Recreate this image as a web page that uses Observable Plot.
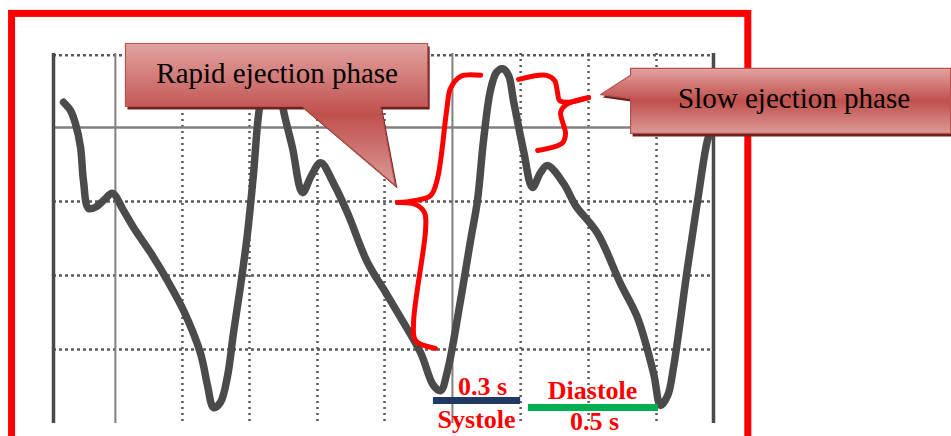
<!DOCTYPE html>
<html>
<head>
<meta charset="utf-8">
<script src="https://cdn.jsdelivr.net/npm/d3@7"></script>
<script src="https://cdn.jsdelivr.net/npm/@observablehq/plot@0.6"></script>
<style>
  html, body { margin: 0; padding: 0; background: #fff; overflow: hidden; }
  #chart svg { display: block; }
</style>
</head>
<body>
<svg width="0" height="0" style="position:absolute">
  <defs>
    <linearGradient id="calloutGrad" x1="0" y1="0" x2="0" y2="1">
      <stop offset="0" stop-color="#e2a3a1"/>
      <stop offset="0.5" stop-color="#c0504d"/>
      <stop offset="1" stop-color="#dc9a98"/>
    </linearGradient>
  </defs>
</svg>
<div id="chart"></div>
<script>
// Waveform: time (s) vs pressure (arbitrary units, 0-100 over the grid)
const waveT = [0.035,0.059,0.076,0.094,0.104,0.122,0.149,0.177,0.205,0.243,0.278,0.337,0.396,0.452,0.511,0.535,0.556,0.580,0.605,0.625,0.650,0.674,0.695,0.712,0.733,0.757,0.782,0.799,0.830,0.865,0.896,0.928,0.973,1.022,1.091,1.154,1.206,1.275,1.320,1.345,1.369,1.414,1.449,1.473,1.494,1.518,1.539,1.560,1.581,1.598,1.633,1.664,1.692,1.716,1.772,1.814,1.890,1.970,2.029,2.085,2.109,2.134,2.154,2.203,2.238,2.272,2.290];
const waveP = [86.8,84.6,81.1,74.6,65.7,58.1,58.6,60.5,62.2,57.6,53.0,46.2,38.6,30.5,18.9,10.3,4.3,5.7,13.0,24.3,37.3,51.4,67.6,83.2,92.7,96.5,92.7,84.6,74.6,62.4,67.0,70.5,64.9,56.8,43.5,35.4,28.6,19.2,10.3,8.9,14.3,33.2,49.5,60.3,76.5,90.0,94.9,95.9,94.1,87.3,73.8,63.8,67.8,69.7,64.9,58.9,51.4,37.8,28.6,13.5,4.9,7.6,15.1,42.2,60.3,76.5,80.5];

// Grid of the recording paper
const gridSolidX = [0.215, 1.386];
const gridDottedX = [0.448, 0.681, 0.917, 1.150, 1.623, 1.859, 2.095];
const gridEdgeX = [0.0, 2.293];
const gridSolidY = [80];
const gridDottedY = [20, 40, 60, 99.5];

// Phase durations
const systoleSpan = [1.320, 1.623];
const systoleLevel = 6.2;
const diastoleSpan = [1.650, 2.102];
const diastoleLevel = 4.3;

// Annotation texts
const labels = [
  {t: 1.491, p: 7.8,  text: "0.3 s"},
  {t: 1.470, p: -1.1, text: "Systole"},
  {t: 1.873, p: 6.5,  text: "Diastole"},
  {t: 1.880, p: -1.8, text: "0.5 s"}
];
const calloutTexts = [
  {t: 0.777, p: 91.9, text: "Rapid ejection phase"},
  {t: 2.573, p: 85.4, text: "Slow ejection phase"}
];

// Callout outlines (in chart units)
const rapidCallout = [
  [0.250,102.7],[1.300,102.7],[1.300,85.7],[1.136,85.7],[1.188,64.3],[0.865,85.7],[0.250,85.7],[0.250,102.7]
];
const slowCallout = [
  [2.005,96.0],[3.117,96.0],[3.117,78.4],[2.005,78.4],[2.005,87.8],[1.901,88.9],[2.005,94.1],[2.005,96.0]
];

// Braces (two halves each)
const braceRapidTop = [[1.484,94.1],[1.414,93.8],[1.379,90.5],[1.366,84.6],[1.334,66.2],[1.310,61.6],[1.258,60.3],[1.195,59.7]];
const braceRapidBottom = [[1.195,59.7],[1.258,59.2],[1.289,57.0],[1.293,52.7],[1.251,27.3],[1.258,22.4],[1.327,20.3]];
const braceSlowTop = [[1.616,93.0],[1.713,94.1],[1.741,92.7],[1.751,89.5],[1.758,87.3],[1.782,86.8],[1.859,88.1]];
const braceSlowBottom = [[1.859,88.1],[1.782,86.2],[1.762,84.1],[1.779,78.4],[1.769,75.9],[1.682,73.8]];

// Slide frame
const frameBox = {x1: -0.144, x2: 2.414, y1: -25, y2: 110.7};

const wave = waveT.map((t, i) => ({t, p: waveP[i]}));
const toObj = (arr, id) => arr.map(([t, p]) => ({t, p, id}));
const braces = [
  ...toObj(braceRapidTop, "a"), ...toObj(braceRapidBottom, "b"),
  ...toObj(braceSlowTop, "c"), ...toObj(braceSlowBottom, "d")
];
const rapid = toObj(rapidCallout, "r");
const slow = toObj(slowCallout, "s");

const serif = "'Liberation Serif', 'Times New Roman', serif";

const plot = Plot.plot({
  width: 951,
  height: 436,
  marginLeft: 53,
  marginRight: 236,
  marginTop: 53,
  marginBottom: 13,
  x: {domain: [0, 2.3], axis: null},
  y: {domain: [0, 100], axis: null},
  style: {background: "transparent", overflow: "visible"},
  marks: [
    Plot.rect([frameBox], {x1: "x1", x2: "x2", y1: "y1", y2: "y2", fill: "none", stroke: "#ff0000", strokeWidth: 7}),
    Plot.ruleX(gridDottedX, {stroke: "#5a5a5a", strokeWidth: 2.5, strokeDasharray: "2,4"}),
    Plot.ruleY(gridDottedY, {stroke: "#5a5a5a", strokeWidth: 2.5, strokeDasharray: "3,3"}),
    Plot.ruleX(gridSolidX, {stroke: "#808080", strokeWidth: 2}),
    Plot.ruleY(gridSolidY, {stroke: "#808080", strokeWidth: 2.5}),
    Plot.ruleX(gridEdgeX, {stroke: "#4a4a4a", strokeWidth: 3.5}),
    Plot.line(wave, {x: "t", y: "p", curve: "catmull-rom", stroke: "#4b4b4b", strokeWidth: 7.5, strokeLinejoin: "round", strokeLinecap: "round"}),
    Plot.line(braces, {x: "t", y: "p", z: "id", curve: "catmull-rom", stroke: "#ff0000", strokeWidth: 5, strokeLinecap: "round", strokeLinejoin: "round"}),
    Plot.line(rapid, {x: "t", y: "p", fill: "#6e2220", stroke: "none", dx: 2, dy: 3}),
    Plot.line(slow, {x: "t", y: "p", fill: "#6e2220", stroke: "none", dx: 2, dy: 3}),
    Plot.line(rapid, {x: "t", y: "p", fill: "url(#calloutGrad)", stroke: "#b9504d", strokeWidth: 1.2}),
    Plot.line(slow, {x: "t", y: "p", fill: "url(#calloutGrad)", stroke: "#b9504d", strokeWidth: 1.2}),
    Plot.text(calloutTexts, {x: "t", y: "p", text: "text", lineAnchor: "bottom", textAnchor: "middle", fill: "#000", fontFamily: serif, fontSize: 29}),
    Plot.ruleY([systoleLevel], {x1: systoleSpan[0], x2: systoleSpan[1], stroke: "#1f3864", strokeWidth: 7}),
    Plot.ruleY([diastoleLevel], {x1: diastoleSpan[0], x2: diastoleSpan[1], stroke: "#00b050", strokeWidth: 7}),
    Plot.text(labels, {x: "t", y: "p", text: "text", lineAnchor: "bottom", textAnchor: "middle", fill: "#ff0000", fontFamily: serif, fontSize: 26, fontWeight: "bold"})
  ]
});
document.getElementById("chart").appendChild(plot);
</script>
</body>
</html>
